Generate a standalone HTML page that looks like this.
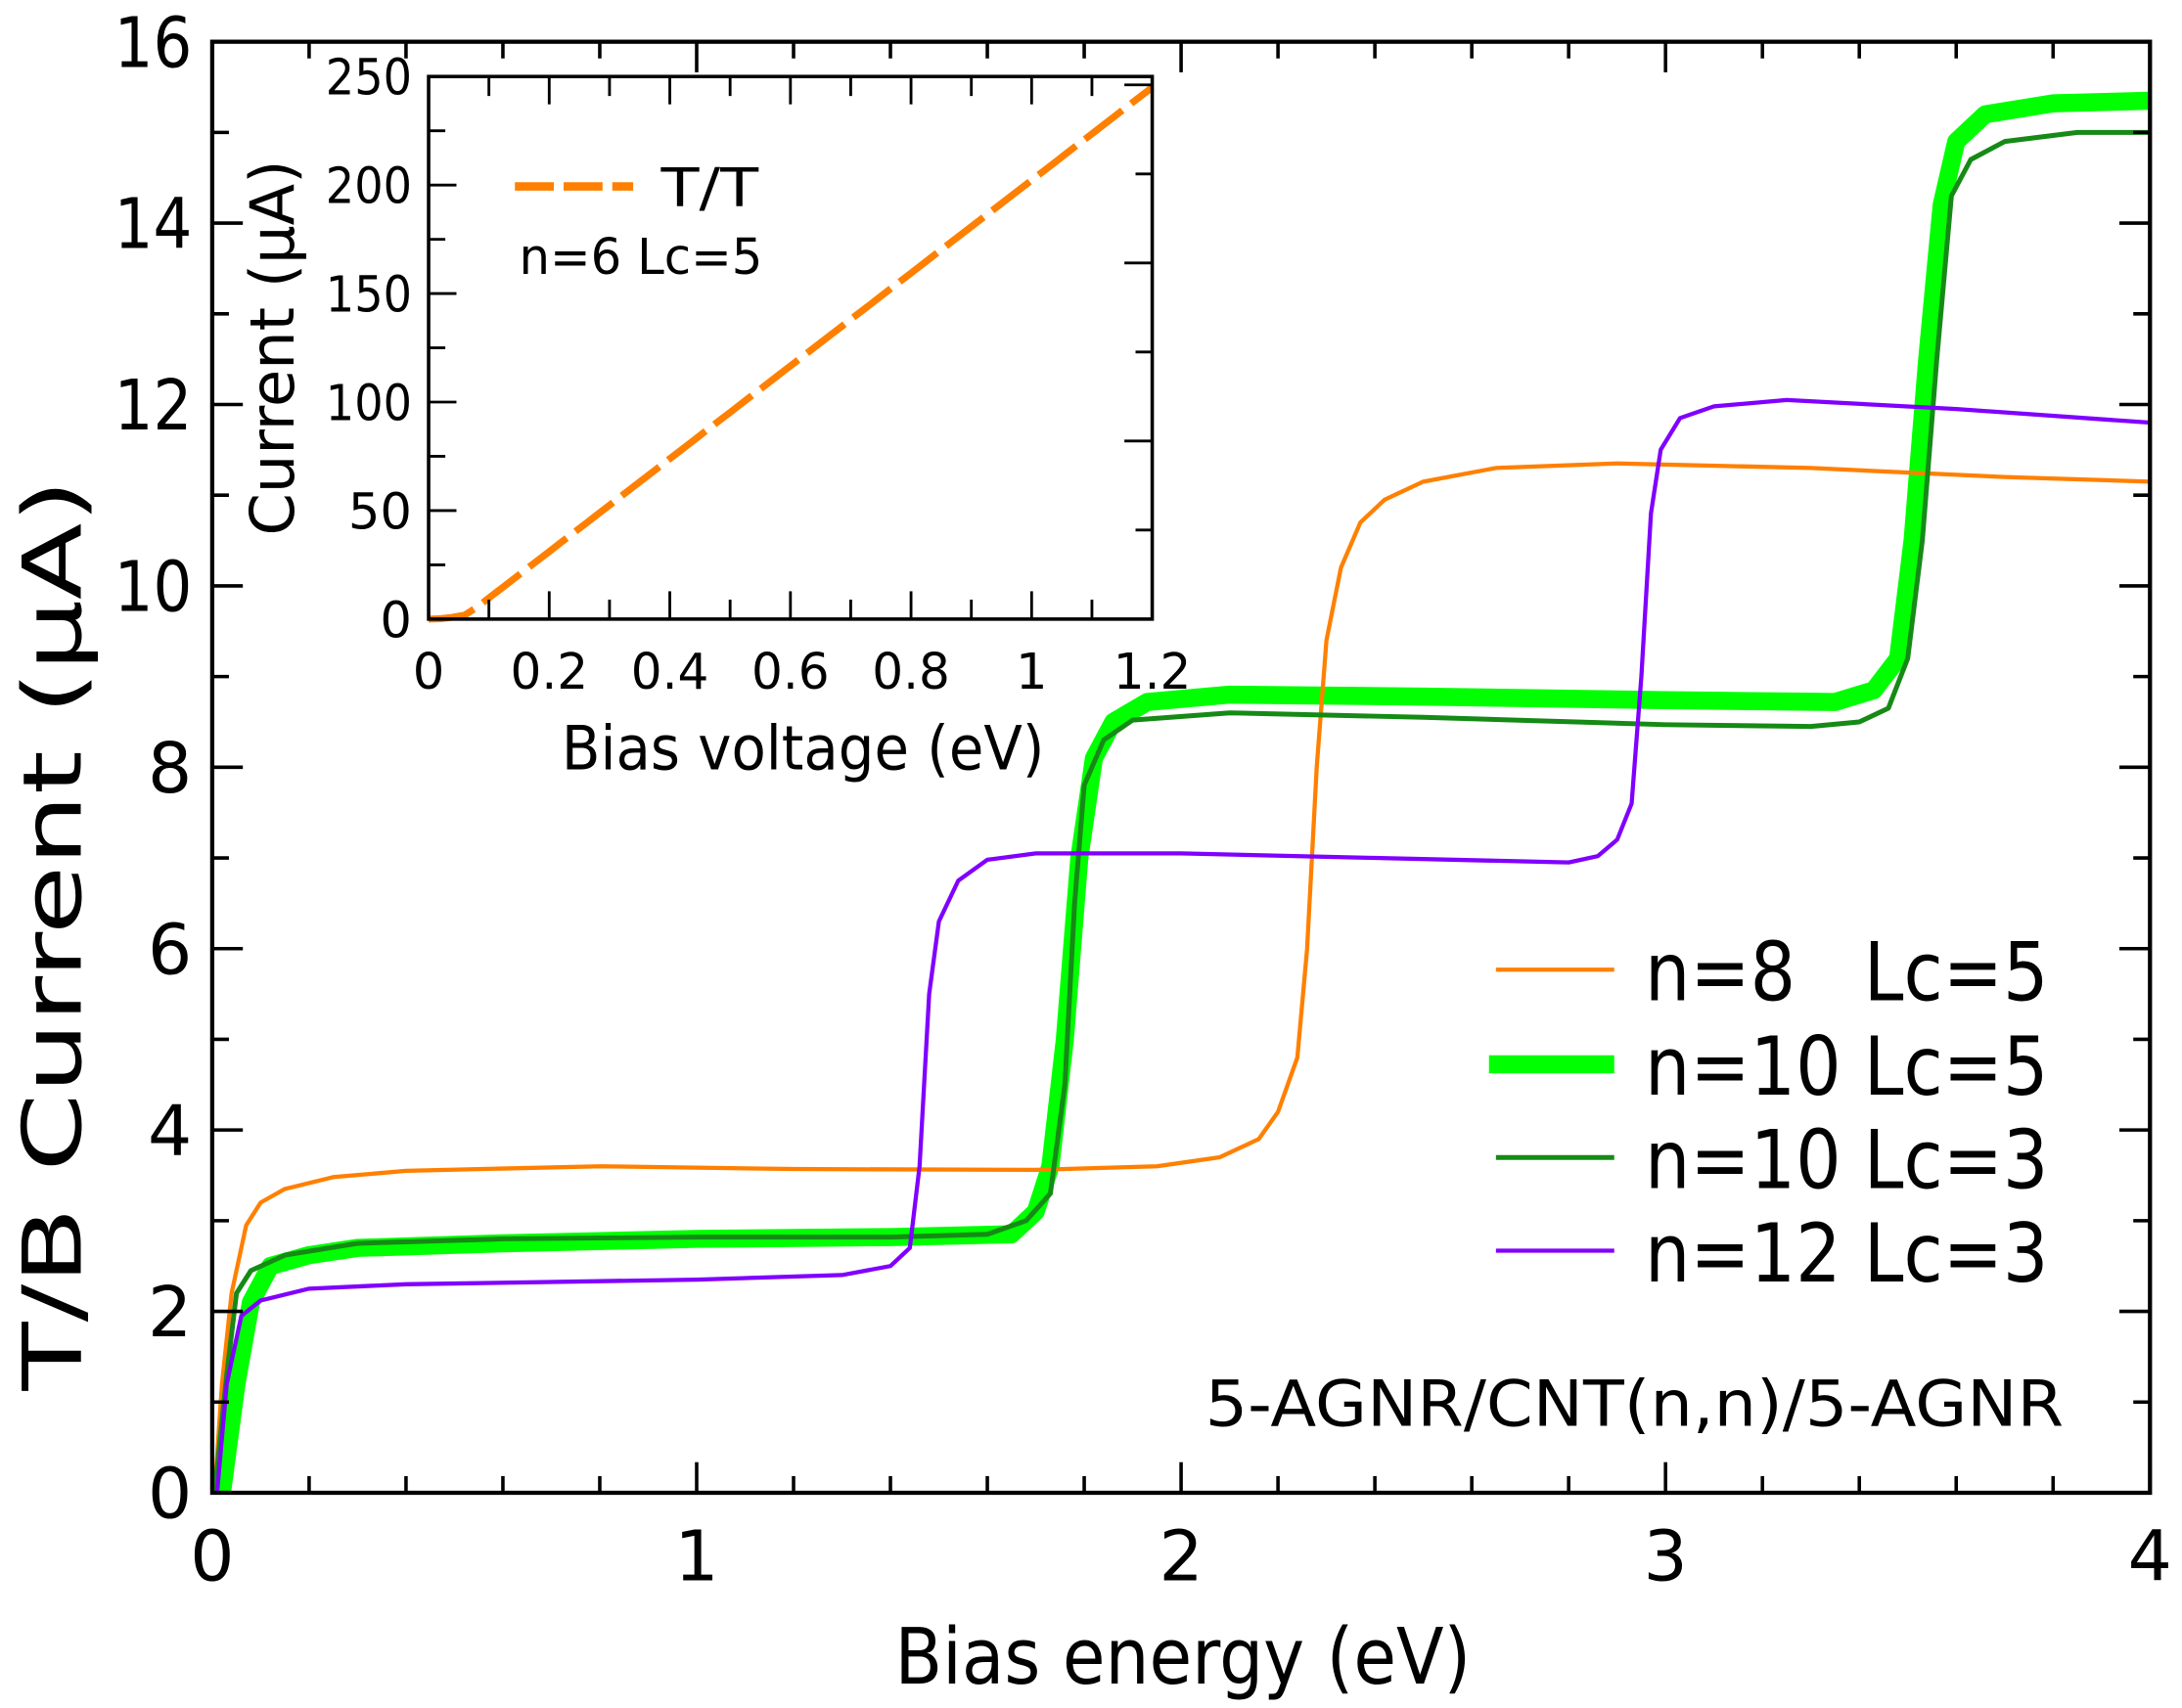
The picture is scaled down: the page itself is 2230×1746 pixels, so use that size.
<!DOCTYPE html>
<html><head><meta charset="utf-8"><style>
html,body{margin:0;padding:0;background:#fff}
svg{display:block}
text{font-family:"DejaVu Sans","Liberation Sans",sans-serif;fill:#000;white-space:pre}
</style></head><body>
<svg id="s" width="2230" height="1746" viewBox="0 0 1568 1227.7" xmlns="http://www.w3.org/2000/svg">
<g id="g"></g>
</svg>
<script>
const NS="http://www.w3.org/2000/svg",g=document.getElementById('g');
function el(t,a,txt){const e=document.createElementNS(NS,t);for(const k in a)e.setAttribute(k,a[k]);if(txt!=null)e.textContent=txt;g.appendChild(e);return e;}
function tx(x,y,fs,s,anchor,len,tr){const a={x,y,'font-size':fs,'text-anchor':anchor||'start'};if(len){a.textLength=len;a.lengthAdjust='spacingAndGlyphs';}if(tr)a.transform=tr;return el('text',a,s);}
const X0=152.5,X1=1545,Y0=1073,Y1=30;
const mx=v=>X0+(X1-X0)*v/4, my=v=>Y0-(Y0-Y1)*v/16;
const IX0=308,IX1=828,IY0=445,IY1=55;
const ix=v=>IX0+(IX1-IX0)*v/1.2, iy=v=>IY0-(IY0-IY1)*v/250;
function line(x1,y1,x2,y2,w){el('line',{x1,y1,x2,y2,stroke:'#000','stroke-width':w||2.5});}
const S=[
 {c:'#00ff00',w:13,p:[[0.02,0],[0.05,1.2],[0.08,2.1],[0.12,2.5],[0.2,2.62],[0.3,2.7],[0.6,2.75],[1.0,2.8],[1.4,2.82],[1.65,2.85],[1.7,3.1],[1.73,3.6],[1.76,5],[1.79,7],[1.82,8.1],[1.86,8.5],[1.93,8.72],[2.1,8.8],[2.5,8.78],[3.0,8.74],[3.35,8.72],[3.43,8.85],[3.48,9.2],[3.51,10.5],[3.54,12.5],[3.57,14.2],[3.6,14.9],[3.66,15.2],[3.8,15.32],[4,15.35]]},
 {c:'#ff8000',w:3,p:[[0.005,0],[0.02,1.2],[0.04,2.2],[0.07,2.95],[0.1,3.2],[0.15,3.35],[0.25,3.48],[0.4,3.55],[0.8,3.6],[1.2,3.57],[1.7,3.56],[1.95,3.6],[2.08,3.7],[2.16,3.9],[2.2,4.2],[2.24,4.8],[2.26,6],[2.28,8],[2.3,9.4],[2.33,10.2],[2.37,10.7],[2.42,10.95],[2.5,11.15],[2.65,11.3],[2.9,11.35],[3.3,11.3],[3.7,11.2],[4,11.15]]},
 {c:'#158a15',w:3.5,p:[[0.005,0],[0.03,1.3],[0.05,2.2],[0.08,2.45],[0.15,2.62],[0.3,2.75],[0.6,2.8],[1.0,2.82],[1.4,2.82],[1.6,2.85],[1.68,3.0],[1.73,3.3],[1.76,4.5],[1.78,6.5],[1.8,7.8],[1.84,8.3],[1.9,8.52],[2.1,8.6],[2.5,8.55],[3.0,8.47],[3.3,8.45],[3.4,8.5],[3.46,8.65],[3.5,9.2],[3.53,10.5],[3.56,12.5],[3.59,14.3],[3.63,14.7],[3.7,14.9],[3.85,15.0],[4,15.0]]},
 {c:'#8000ff',w:3,p:[[0.01,0],[0.03,1.2],[0.06,1.95],[0.1,2.12],[0.2,2.25],[0.4,2.3],[1.0,2.35],[1.3,2.4],[1.4,2.5],[1.44,2.7],[1.46,3.6],[1.48,5.5],[1.5,6.3],[1.54,6.75],[1.6,6.98],[1.7,7.05],[2.0,7.05],[2.4,7.0],[2.8,6.95],[2.86,7.02],[2.9,7.2],[2.93,7.6],[2.95,9],[2.97,10.8],[2.99,11.5],[3.03,11.85],[3.1,11.98],[3.25,12.05],[3.6,11.95],[4,11.8]]}
];
for(const s of S){el('polyline',{points:s.p.map(q=>mx(q[0]).toFixed(1)+','+my(q[1]).toFixed(1)).join(' '),fill:'none',stroke:s.c,'stroke-width':s.w,'stroke-linejoin':'round'});}
el('rect',{x:X0,y:Y1,width:X1-X0,height:Y0-Y1,fill:'none',stroke:'#000','stroke-width':3});
for(let i=0;i<=20;i++){const v=i*0.2,x=mx(v),L=(i%5==0)?22:12;line(x,Y0,x,Y0-L);line(x,Y1,x,Y1+L);}
for(let i=0;i<=16;i++){const y=my(i),L=(i%2==0)?22:12;line(X0,y,X0+L,y);line(X1,y,X1-L,y);}
for(let i=0;i<=4;i++)tx(mx(i),1136,50,String(i),'middle');
for(let i=0;i<=16;i+=2)tx(138,my(i)+18,50,String(i),'end',i>=10?56:null);
tx(850,1210,56,'Bias energy (eV)','middle',414);
tx(0,0,58,'T/B Current (μA)','middle',655,'translate(58,672) rotate(-90)');
const L=[['#ff8000',3,'n=8   Lc=5',697],['#00ff00',13,'n=10 Lc=5',765],['#158a15',3.5,'n=10 Lc=3',832],['#8000ff',3,'n=12 Lc=3',899]];
for(const l of L){el('line',{x1:l[1]>10?1070:1075,y1:l[3],x2:1160,y2:l[3],stroke:l[0],'stroke-width':l[1]});tx(1182,l[3]+22,58,l[2],'start',290);}
tx(1483,1025,46,'5-AGNR/CNT(n,n)/5-AGNR','end',617);
el('rect',{x:IX0,y:IY1-2,width:IX1-IX0+4,height:IY0-IY1+40,fill:'#fff'});
const ip=[];for(let i=0;i<=60;i++){const v=i*0.02;let I;if(v<0.08)I=v*v*600*0.85;else I=5.44+(v-0.08)*(245-5.44)/1.12;ip.push(ix(v).toFixed(1)+','+iy(I).toFixed(1));}
ip[0]=ix(0)+','+iy(0);
el('polyline',{points:ip.join(' '),fill:'none',stroke:'#ff8000','stroke-width':5,'stroke-dasharray':'34 8'});
el('rect',{x:IX0,y:IY1,width:IX1-IX0,height:IY0-IY1,fill:'none',stroke:'#000','stroke-width':2.5});
for(let i=0;i<=12;i++){const x=ix(i*0.1),Ln=(i%2==0)?20:14;line(x,IY0,x,IY0-Ln,2);line(x,IY1,x,IY1+Ln,2);}
for(let i=0;i<=10;i++){const y=iy(i*25),Ln=(i%2==0)?20:12;line(IX0,y,IX0+Ln,y,2);}
for(let i=1;i<=6;i++){const y=IY0-i*64,Ln=(i%2==0)?20:12;line(IX1,y,IX1-Ln,y,2);}
const xt=['0','0.2','0.4','0.6','0.8','1','1.2'];
for(let i=0;i<=6;i++)tx(ix(i*0.2),495,36,xt[i],'middle',xt[i].length>1?56:null);
for(let i=0;i<=5;i++)tx(296,iy(i*50)+13,36,String(i*50),'end',i>=2?62:null);
tx(577,553,44,'Bias voltage (eV)','middle',347);
tx(0,0,44,'Current (μA)','middle',270,'translate(211,250) rotate(-90)');
el('line',{x1:370,y1:134,x2:455,y2:134,stroke:'#ff8000','stroke-width':6,'stroke-dasharray':'28 7'});
tx(475,148,38,'T/T','start',70);
tx(373,197,36,'n=6 Lc=5','start',175);
</script>
</body></html>
